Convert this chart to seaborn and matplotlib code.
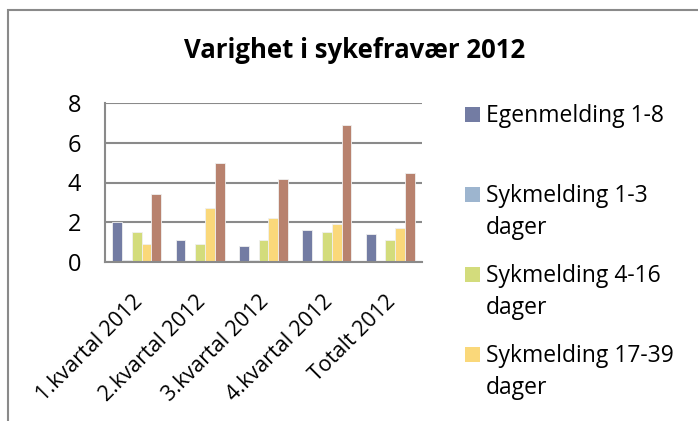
import matplotlib
matplotlib.use("Agg")
import matplotlib.pyplot as plt
import matplotlib.transforms as mtransforms
import seaborn as sns
import pandas as pd
from matplotlib.patches import Rectangle

categories = ["1.kvartal 2012", "2.kvartal 2012", "3.kvartal 2012", "4.kvartal 2012", "Totalt 2012"]
series_names = ["Egenmelding 1-8", "Sykmelding 1-3 dager", "Sykmelding 4-16 dager",
                "Sykmelding 17-39 dager", "Sykmelding 40+ dager"]
egenmelding = [2.0, 1.1, 0.8, 1.6, 1.4]
sykm_1_3 = [0.1, 0.0, 0.1, 0.0, 0.0]
sykm_4_16 = [1.5, 0.9, 1.1, 1.5, 1.1]
sykm_17_39 = [0.9, 2.7, 2.2, 1.9, 1.7]
sykm_40 = [3.4, 5.0, 4.2, 6.9, 4.5]
legend_lines = [["Egenmelding 1-8"], ["Sykmelding 1-3", "dager"],
                ["Sykmelding 4-16", "dager"], ["Sykmelding 17-39", "dager"]]
yticks = [0, 2, 4, 6, 8]

colors = ["#737CA3", "#9DB5CF", "#D3DC7C", "#FAD87A", "#B8826E"]

rows = []
for name, vals in zip(series_names, [egenmelding, sykm_1_3, sykm_4_16, sykm_17_39, sykm_40]):
    for c, v in zip(categories, vals):
        rows.append({"Periode": c, "Serie": name, "Verdi": v})
df = pd.DataFrame(rows)

sns.set_theme(style="white")
plt.rcParams["font.family"] = ["Open Sans", "DejaVu Sans"]

W, H = 698, 421
fig = plt.figure(figsize=(6.98, 4.21), dpi=100)
ax = fig.add_axes([105/W, 1-262/H, 317/W, 159/H])

sns.barplot(data=df, x="Periode", y="Verdi", hue="Serie", order=categories,
            hue_order=series_names, palette=colors, width=0.77, ax=ax,
            edgecolor="#f0f0f0", linewidth=0.6, legend=False, saturation=1)

ax.set_ylim(0, 8)
ax.set_yticks(yticks)
ax.set_yticklabels([str(t) for t in yticks], fontsize=17, color="black")
ax.yaxis.grid(True, color="#8a8a8a", linewidth=1.5)
ax.set_axisbelow(True)
ax.set_xlabel("")
ax.set_ylabel("")
ax.tick_params(axis="y", length=0, pad=17)
ax.tick_params(axis="x", length=0, pad=21)
for s in ["top", "right"]:
    ax.spines[s].set_visible(False)
for s in ["left", "bottom"]:
    ax.spines[s].set_color("#8a8a8a")
    ax.spines[s].set_linewidth(1.5)
ax.set_xlim(-0.5, 4.5)
ax.set_xticks(range(len(categories)))
ax.set_xticklabels(categories, rotation=45, ha="right", va="top",
                   rotation_mode="anchor", fontsize=15.5, color="black")
shift = mtransforms.ScaledTranslation(-5/100, 0, fig.dpi_scale_trans)
for lbl in ax.get_xticklabels():
    lbl.set_transform(lbl.get_transform() + shift)

fig.text(0.508, 1-51/H, "Varighet i sykefravær 2012", ha="center", va="center",
         fontsize=18.5, fontweight="bold", color="black")

# legend (first four entries visible, as in the cropped original)
base = 122
for i, (lines, col) in enumerate(zip(legend_lines, colors[:4])):
    y0 = base + 80 * i
    fig.patches.append(Rectangle((465/W, 1-y0/H), 15/W, 15/H, transform=fig.transFigure,
                                 facecolor=col, edgecolor="none"))
    for j, line in enumerate(lines):
        fig.text(486/W, 1-(y0 + 32*j)/H, line, ha="left", va="baseline",
                 fontsize=16.5, color="black")

fig.patches.append(Rectangle((8/W, -0.1), 1.2, 1.1 - 10/H, transform=fig.transFigure,
                             fill=False, edgecolor="#8a8a8a", linewidth=1.5, zorder=10))

fig.savefig("out.png", dpi=100)
